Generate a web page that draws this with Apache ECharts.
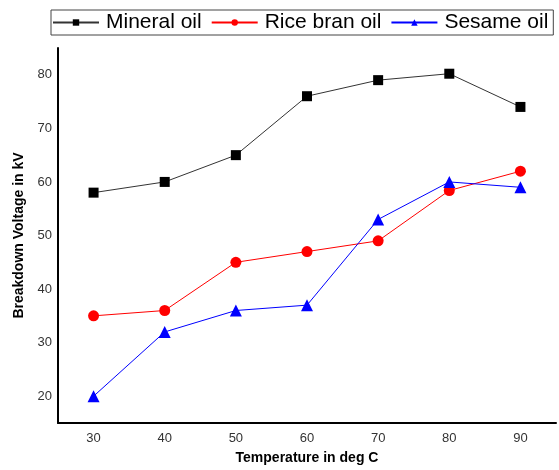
<!DOCTYPE html>
<html><head><meta charset="utf-8">
<script src="https://cdn.jsdelivr.net/npm/echarts@6/dist/echarts.min.js"></script>
<style>html,body{margin:0;padding:0;background:#fff}#c{width:559px;height:470px}</style>
</head><body><div id="c"></div>
<script>
const temperatures = [30, 40, 50, 60, 70, 80, 90];
const mineralOil = [58, 60, 65, 76, 79, 80.2, 74];
const riceBranOil = [35, 36, 45, 47, 49, 58.4, 62];
const sesameOil = [20, 32, 36, 37, 53, 60, 59];
const seriesNames = ['Mineral oil', 'Rice bran oil', 'Sesame oil'];

const pairs = a => temperatures.map((t, i) => [t, a[i]]);
const chart = echarts.init(document.getElementById('c'), null, {renderer: 'canvas'});
const font = 'Liberation Sans, Arial, sans-serif';
chart.setOption({
  animation: false,
  backgroundColor: '#fff',
  textStyle: {fontFamily: font},
  legend: {
    data: seriesNames,
    left: 51, top: 10,
    borderColor: '#444', borderWidth: 1,
    padding: [2, 5, 2, 1],
    itemGap: 9, itemWidth: 46, itemHeight: 8,
    textStyle: {fontSize: 21, color: '#000', fontFamily: font, padding: [0, 0, 0, 2]}
  },
  grid: {left: 58, right: 0, top: 48, bottom: 45, containLabel: false},
  xAxis: {
    type: 'value', min: 25, max: 95, interval: 5,
    name: 'Temperature in deg C', nameLocation: 'middle', nameGap: 28,
    nameTextStyle: {fontWeight: 'bold', fontSize: 14, color: '#000', fontFamily: font},
    axisLine: {lineStyle: {color: '#000', width: 2}},
    axisTick: {show: false},
    splitLine: {show: false},
    axisLabel: {fontSize: 13, color: '#333', margin: 9, fontFamily: font,
      formatter: v => (v % 10 === 0 ? String(v) : '')}
  },
  yAxis: {
    type: 'value', min: 15, max: 85, interval: 5,
    name: 'Breakdown Voltage in kV', nameLocation: 'middle', nameGap: 29,
    nameTextStyle: {fontWeight: 'bold', fontSize: 14, color: '#000', fontFamily: font},
    axisLine: {show: true, lineStyle: {color: '#000', width: 2}},
    axisTick: {show: false},
    splitLine: {show: false},
    axisLabel: {fontSize: 13, color: '#333', margin: 6, fontFamily: font,
      formatter: v => (v % 10 === 0 ? String(v) : '')}
  },
  series: [
    {name: seriesNames[0], type: 'line', data: pairs(mineralOil), symbol: 'rect', symbolSize: 10,
     itemStyle: {color: '#000'}, lineStyle: {color: '#333', width: 1}},
    {name: seriesNames[1], type: 'line', data: pairs(riceBranOil), symbol: 'circle', symbolSize: 11,
     itemStyle: {color: '#ff0000'}, lineStyle: {color: '#ff0000', width: 1}},
    {name: seriesNames[2], type: 'line', data: pairs(sesameOil), symbol: 'triangle', symbolSize: 12,
     itemStyle: {color: '#0000ff'}, lineStyle: {color: '#0000ff', width: 1}}
  ]
});
</script></body></html>
